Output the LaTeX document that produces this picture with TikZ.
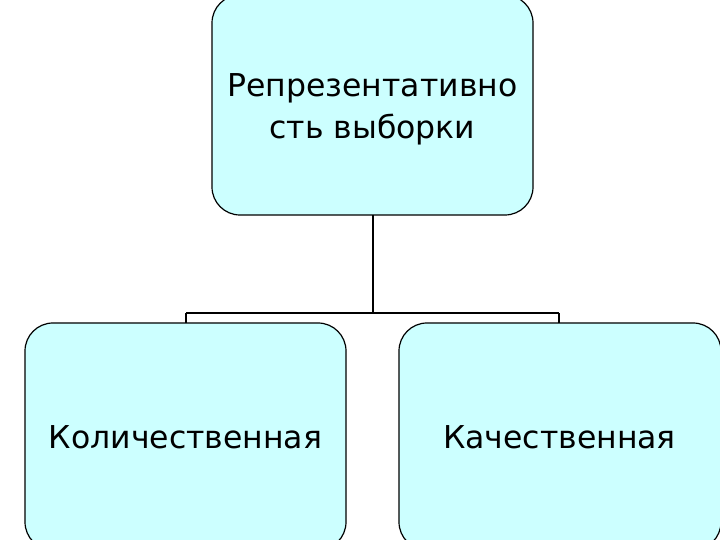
\documentclass[tikz,border=0pt]{standalone}
\usepackage{fontspec}
\setmainfont{DejaVu Sans}
\definecolor{boxfill}{HTML}{CCFFFF}
\begin{document}
\begin{tikzpicture}[x=1pt,y=1pt,
  box/.style={draw=black,fill=boxfill,rounded corners=28pt,line width=1.2pt},
  txt/.style={align=center,font=\fontsize{31.5}{42}\selectfont},
  conn/.style={draw=black,line width=2pt}]
\useasboundingbox (0,0) rectangle (720,540);
\clip (0,0) rectangle (720,540);
\path[box] (212,325) rectangle (533,545);
\node[txt] (top) at (372.5,431) {Репрезентативно\\сть выборки};
\path[box] (25,-10) rectangle (346,217);
\node[txt] (l) at (185.5,103) {Количественная};
\path[box] (399,-10) rectangle (721,217);
\node[txt] (r) at (559.5,103) {Качественная};
\coordinate (tb) at (372.5,325);
\coordinate (mid) at (372.5,227);
\coordinate (ml) at (186,227);
\coordinate (mr) at (559,227);
\draw[conn] (tb) -- (mid);
\draw[conn] (ml) -- (mr);
\draw[conn] (ml) -- (186,217);
\draw[conn] (mr) -- (559,217);
\end{tikzpicture}
\end{document}
